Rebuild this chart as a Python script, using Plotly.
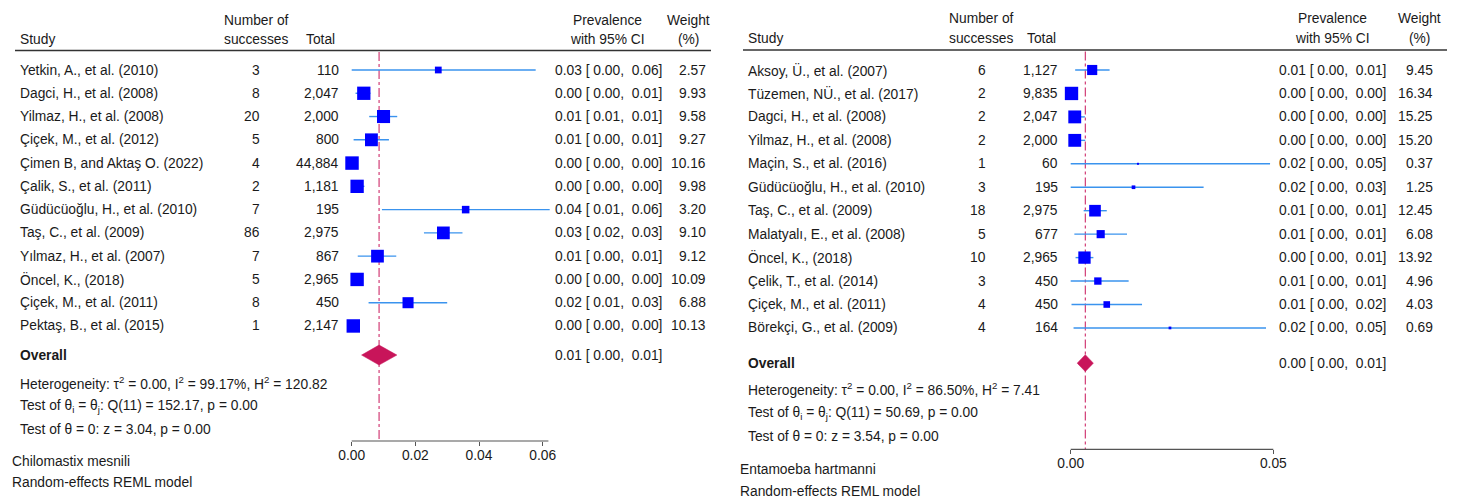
import plotly.graph_objects as go

W, H = 1457, 498

# ---------------- data: left panel (Chilomastix mesnili) ----------------
l_studies = ["Yetkin, A., et al. (2010)", "Dagci, H., et al. (2008)", "Yilmaz, H., et al. (2008)",
             "Çiçek, M., et al. (2012)", "Çimen B, and Aktaş O. (2022)", "Çalik, S., et al. (2011)",
             "Güdücüoğlu, H., et al. (2010)", "Taş, C., et al. (2009)", "Yılmaz, H., et al. (2007)",
             "Öncel, K., (2018)", "Çiçek, M., et al. (2011)", "Pektaş, B., et al. (2015)"]
l_success = [3, 8, 20, 5, 4, 2, 7, 86, 7, 5, 8, 1]
l_total = [110, 2047, 2000, 800, 44884, 1181, 195, 2975, 867, 2965, 450, 2147]
l_est = [0.0272, 0.0038, 0.0100, 0.0062, 0.0001, 0.0017, 0.0358, 0.0288, 0.0081, 0.0017, 0.0177, 0.0005]
l_lo = [0.0000, 0.0012, 0.0055, 0.0006, 0.0000, 0.0002, 0.0095, 0.0227, 0.0019, 0.0008, 0.0053, 0.0000]
l_hi = [0.0578, 0.0059, 0.0143, 0.0117, 0.0002, 0.0040, 0.0622, 0.0348, 0.0140, 0.0030, 0.0300, 0.0020]
l_weight = [2.57, 9.93, 9.58, 9.27, 10.16, 9.98, 3.20, 9.10, 9.12, 10.09, 6.88, 10.13]
l_overall = [0.0086, 0.0031, 0.0142]
l_stats = ["Heterogeneity: τ<sup>2</sup> = 0.00, I<sup>2</sup> = 99.17%, H<sup>2</sup> = 120.82",
           "Test of θ<sub>i</sub> = θ<sub>j</sub>: Q(11) = 152.17, p = 0.00",
           "Test of θ = 0: z = 3.04, p = 0.00"]
l_notes = ["Chilomastix mesnili", "Random-effects REML model"]
l_ticks = [0.00, 0.02, 0.04, 0.06]

# ---------------- data: right panel (Entamoeba hartmanni) ----------------
r_studies = ["Aksoy, Ü., et al. (2007)", "Tüzemen, NÜ., et al. (2017)", "Dagci, H., et al. (2008)",
             "Yilmaz, H., et al. (2008)", "Maçin, S., et al. (2016)", "Güdücüoğlu, H., et al. (2010)",
             "Taş, C., et al. (2009)", "Malatyalı, E., et al. (2008)", "Öncel, K., (2018)",
             "Çelik, T., et al. (2014)", "Çiçek, M., et al. (2011)", "Börekçi, G., et al. (2009)"]
r_success = [6, 2, 2, 2, 1, 3, 18, 5, 10, 3, 4, 4]
r_total = [1127, 9835, 2047, 2000, 60, 195, 2975, 677, 2965, 450, 450, 164]
r_est = [0.0053, 0.0002, 0.0010, 0.0010, 0.0166, 0.0155, 0.0060, 0.0074, 0.0034, 0.0067, 0.0089, 0.0245]
r_lo = [0.0011, 0.0000, 0.0001, 0.0001, 0.0000, 0.0000, 0.0032, 0.0009, 0.0012, 0.0000, 0.0002, 0.0007]
r_hi = [0.0096, 0.0007, 0.0035, 0.0036, 0.0492, 0.0328, 0.0089, 0.0139, 0.0056, 0.0143, 0.0176, 0.0482]
r_weight = [9.45, 16.34, 15.25, 15.20, 0.37, 1.25, 12.45, 6.08, 13.92, 4.96, 4.03, 0.69]
r_overall = [0.0036, 0.0016, 0.0056]
r_stats = ["Heterogeneity: τ<sup>2</sup> = 0.00, I<sup>2</sup> = 86.50%, H<sup>2</sup> = 7.41",
           "Test of θ<sub>i</sub> = θ<sub>j</sub>: Q(11) = 50.69, p = 0.00",
           "Test of θ = 0: z = 3.54, p = 0.00"]
r_notes = ["Entamoeba hartmanni", "Random-effects REML model"]
r_ticks = [0.00, 0.05]

# ---------------- styles ----------------
FONT = "Liberation Sans, Arial, sans-serif"
FS = 13.8
TXT = "#1a1a1a"
BOX = "#0000FF"
CI = "#3A93EE"
OV = "#C8155A"
AX = "#555555"
NB = "\u00a0"


def xp(px):
    return px / W


def yp(py):
    return 1 - py / H


def ci_text(e, lo, hi):
    return f"{e:.2f} [{NB}{lo:.2f},{NB}{NB}{hi:.2f}]"


# panel geometry (pixels)
panels = [
    dict(studies=l_studies, succ=l_success, tot=l_total, est=l_est, lo=l_lo, hi=l_hi, w=l_weight,
         ov=l_overall, stats=l_stats, notes=l_notes, ticks=l_ticks, ax_end=0.0618,
         xa="x", ya="y", xname="xaxis", yname="yaxis",
         zero_px=351.7, ppu=3183.0, dom=(300, 720),
         row0=70.0, rstep=23.27, ov_row=12.25, dia_h=0.43, box_k=4.22,
         axis_py=441.0, head1=20.5, head2=39.5, hline=50.5, hline_x=(15, 711),
         x_study=18, x_succ=262, x_tot=341, x_tot_head=337, x_succ_head=256,
         x_prev=553, x_prev_head=607, x_w=708, x_w_head=688,
         x_note=10, stats_py=[382.5, 406.5, 429.5], notes_py=[461.5, 482]),
    dict(studies=r_studies, succ=r_success, tot=r_total, est=r_est, lo=r_lo, hi=r_hi, w=r_weight,
         ov=r_overall, stats=r_stats, notes=r_notes, ticks=r_ticks, ax_end=0.05,
         xa="x2", ya="y2", xname="xaxis2", yname="yaxis2",
         zero_px=1070.7, ppu=4052.0, dom=(1020, 1400),
         row0=70.0, rstep=23.45, ov_row=12.5, dia_h=0.36, box_k=3.3,
         axis_py=449.3, head1=18.5, head2=38.0, hline=50.0, hline_x=(743, 1447),
         x_study=746, x_succ=988, x_tot=1060, x_tot_head=1058, x_succ_head=981,
         x_prev=1277, x_prev_head=1332, x_w=1435, x_w_head=1419,
         x_note=738, stats_py=[389, 413, 436], notes_py=[469, 491]),
]

fig = go.Figure()
annotations = []
shapes = []
layout_axes = {}

for p in panels:
    n = len(p["studies"])
    rows = list(range(n))
    # axes
    r0 = (p["dom"][0] - p["zero_px"]) / p["ppu"]
    r1 = (p["dom"][1] - p["zero_px"]) / p["ppu"]
    layout_axes[p["xname"]] = dict(
        domain=[xp(p["dom"][0]), xp(p["dom"][1])], range=[r0, r1],
        anchor="free", position=yp(p["axis_py"]), showgrid=False, zeroline=False,
        showline=False, ticks="outside", ticklen=4, tickwidth=1.2, tickcolor=AX,
        tickvals=p["ticks"], ticktext=[f"{t:.2f}" for t in p["ticks"]],
        ticklabelstandoff=-3,
        tickfont=dict(family=FONT, size=FS, color=TXT), fixedrange=True,
    )
    top_val = (0 - p["row0"]) / p["rstep"]
    bot_val = (H - p["row0"]) / p["rstep"]
    layout_axes[p["yname"]] = dict(domain=[0, 1], range=[bot_val, top_val], visible=False,
                                   anchor=p["xa"], fixedrange=True)
    # axis line
    shapes.append(dict(type="line", xref=p["xa"], yref="paper", x0=0, x1=p["ax_end"],
                       y0=yp(p["axis_py"]), y1=yp(p["axis_py"]), line=dict(color=AX, width=1.2)))
    # overall reference line
    shapes.append(dict(type="line", xref=p["xa"], yref="paper", x0=p["ov"][0], x1=p["ov"][0],
                       y0=yp(p["hline"] + 1.5), y1=yp(p["axis_py"]),
                       line=dict(color=OV, width=1, dash="dashdot"), layer="below"))
    # header line
    shapes.append(dict(type="line", xref="paper", yref="paper", x0=xp(p["hline_x"][0]), x1=xp(p["hline_x"][1]),
                       y0=yp(p["hline"]), y1=yp(p["hline"]), line=dict(color="#333333", width=1.6)))
    # CI lines
    cx, cy = [], []
    for i in rows:
        cx += [p["lo"][i], p["hi"][i], None]
        cy += [i, i, None]
    fig.add_trace(go.Scatter(x=cx, y=cy, mode="lines", line=dict(color=CI, width=1.4),
                             xaxis=p["xa"], yaxis=p["ya"], hoverinfo="skip", showlegend=False))
    # boxes
    fig.add_trace(go.Scatter(x=p["est"], y=rows, mode="markers",
                             marker=dict(symbol="square", color=BOX, opacity=1,
                                         size=[p["box_k"] * w ** 0.5 for w in p["w"]], line=dict(width=0)),
                             xaxis=p["xa"], yaxis=p["ya"], cliponaxis=False, showlegend=False))
    # overall diamond
    e, lo, hi = p["ov"]
    r = p["ov_row"]
    h = p["dia_h"]
    fig.add_trace(go.Scatter(x=[lo, e, hi, e, lo], y=[r, r - h, r, r + h, r], mode="lines",
                             fill="toself", fillcolor=OV, line=dict(color=OV, width=0.5),
                             xaxis=p["xa"], yaxis=p["ya"], hoverinfo="skip", showlegend=False))

    def ann(text, x, y, xanchor, yref="paper"):
        annotations.append(dict(text=text, x=x, y=y, xref="paper", yref=yref, xanchor=xanchor,
                                yanchor="middle", showarrow=False,
                                font=dict(family=FONT, size=FS, color=TXT)))

    # headers
    ann("Study", xp(p["x_study"]), yp(p["head2"]), "left")
    ann("Number of", xp(p["x_succ_head"]), yp(p["head1"]), "center")
    ann("successes", xp(p["x_succ_head"]), yp(p["head2"]), "center")
    ann("Total", xp(p["x_tot_head"]), yp(p["head2"]), "right")
    ann("Prevalence", xp(p["x_prev_head"]), yp(p["head1"]), "center")
    ann("with 95% CI", xp(p["x_prev_head"]), yp(p["head2"]), "center")
    ann("Weight", xp(p["x_w_head"]), yp(p["head1"]), "center")
    ann("(%)", xp(p["x_w_head"]), yp(p["head2"]), "center")
    # rows
    for i in rows:
        ann(p["studies"][i], xp(p["x_study"]), i, "left", yref=p["ya"])
        ann(str(p["succ"][i]), xp(p["x_succ"]), i, "right", yref=p["ya"])
        ann(f"{p['tot'][i]:,}", xp(p["x_tot"]), i, "right", yref=p["ya"])
        ann(ci_text(p["est"][i], p["lo"][i], p["hi"][i]), xp(p["x_prev"]), i, "left", yref=p["ya"])
        ann(f"{p['w'][i]:.2f}", xp(p["x_w"]), i, "right", yref=p["ya"])
    # overall
    ann("<b>Overall</b>", xp(p["x_study"]), r, "left", yref=p["ya"])
    ann(ci_text(e, lo, hi), xp(p["x_prev"]), r, "left", yref=p["ya"])
    # stats & notes
    for s, py in zip(p["stats"], p["stats_py"]):
        ann(s, xp(p["x_study"]), yp(py), "left")
    for s, py in zip(p["notes"], p["notes_py"]):
        ann(s, xp(p["x_note"]), yp(py), "left")

fig.update_layout(
    width=W, height=H, margin=dict(l=0, r=0, t=0, b=0),
    paper_bgcolor="white", plot_bgcolor="white", showlegend=False,
    annotations=annotations, shapes=shapes,
    font=dict(family=FONT, size=FS, color=TXT),
    **layout_axes,
)

fig.write_html("out.html", config={"displayModeBar": False},
               post_script="document.body.style.margin='0';")
